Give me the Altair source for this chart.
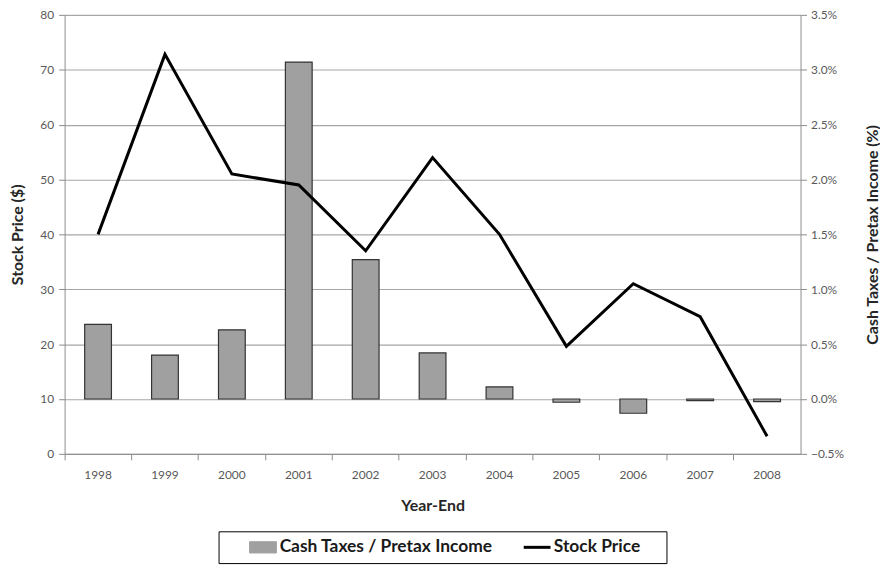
import altair as alt
import pandas as pd

years = ["1998", "1999", "2000", "2001", "2002", "2003", "2004", "2005", "2006", "2007", "2008"]
stock_price = [40.0, 72.8, 51.0, 49.0, 37.0, 54.0, 40.0, 19.6, 31.0, 25.0, 3.2]
cash_tax_pct = [0.68, 0.40, 0.63, 3.07, 1.27, 0.42, 0.11, -0.03, -0.13, -0.015, -0.025]

price_ticks = [0, 10, 20, 30, 40, 50, 60, 70, 80]
pct_ticks = [-0.5, 0.0, 0.5, 1.0, 1.5, 2.0, 2.5, 3.0, 3.5]

SERIES_BAR = "Cash Taxes / Pretax Income"
SERIES_LINE = "Stock Price"

df = pd.DataFrame({"year": years, "price": stock_price, "tax": cash_tax_pct})
df_bar = df.assign(series=SERIES_BAR)
df_line = df.assign(series=SERIES_LINE)

is_line = "datum.label === 'Stock Price'"
legend = alt.Legend(
    title="\u00a0",
    titleOrient="right",
    titlePadding=19,
    titleFontSize=16,
    orient="none",
    legendX=155,
    legendY=520,
    direction="horizontal",
    strokeColor="#000000",
    fillColor="#ffffff",
    padding=7,
    symbolOffset=29,
    columnPadding=7,
    symbolSize=729,
    symbolType={"expr": is_line + " ? 'M-1,0H1' : 'M-1,-0.42H1V0.42H-1Z'"},
    symbolFillColor={"expr": is_line + " ? 'transparent' : '#a0a0a0'"},
    symbolStrokeColor={"expr": is_line + " ? '#000000' : '#333333'"},
    symbolStrokeWidth={"expr": is_line + " ? 3 : 1"},
    symbolOpacity=1,
    labelFont="Lato",
    labelFontSize=17.5,
    labelFontWeight="bold",
    labelColor="#1a1a1a",
    labelOffset=8,
    labelLimit=600,
    labelExpr="datum.label + '\u00a0\u00a0\u00a0\u00a0\u00a0'",
)

color = alt.Color(
    "series:N",
    scale=alt.Scale(domain=[SERIES_BAR, SERIES_LINE], range=["#a0a0a0", "#000000"]),
    legend=legend,
)

x = alt.X(
    "year:O",
    title="Year-End",
    scale=alt.Scale(paddingInner=0, paddingOuter=0),
    axis=alt.Axis(labelAngle=0, bandPosition=0, labelPadding=10, titlePadding=17),
)

bars = alt.Chart(df_bar).mark_bar(
    width=alt.RelativeBandSize(0.4), stroke="#333333", strokeWidth=1.2
).encode(
    x=x,
    y=alt.Y(
        "tax:Q",
        scale=alt.Scale(domain=[-0.5, 3.5], nice=False, zero=False),
        axis=alt.Axis(
            orient="right",
            values=pct_ticks,
            labelExpr="format(datum.value, '.1f') + '%'",
            grid=False,
            title="Cash Taxes / Pretax Income (%)",
            titleAngle=270,
            labelPadding=4,
            titlePadding=37,
        ),
    ),
    color=color,
)

line = alt.Chart(df_line).mark_line(strokeWidth=3).encode(
    x=x,
    y=alt.Y(
        "price:Q",
        scale=alt.Scale(domain=[0, 80], nice=False),
        axis=alt.Axis(
            orient="left",
            values=price_ticks,
            grid=True,
            title="Stock Price ($)",
            labelPadding=5,
            titlePadding=14,
        ),
    ),
    color=color,
)

chart = (
    alt.layer(bars, line)
    .resolve_scale(y="independent")
    .properties(
        width=741,
        height=442,
        autosize=alt.AutoSizeParams(type="none"),
        padding={"left": 57, "top": 5, "right": 80, "bottom": 110},
    )
    .configure_view(strokeWidth=0)
    .configure_axis(
        labelFont="Lato",
        titleFont="Lato",
        labelFontSize=12,
        labelColor="#595959",
        titleFontSize=16,
        titleFontWeight="bold",
        titleColor="#262626",
        domainColor="#8c8c8c",
        tickColor="#8c8c8c",
        tickSize=6,
        gridColor="#a6a6a6",
        gridWidth=1.2,
    )
)

chart.save("out.html", embed_options={"renderer": "svg", "actions": False})
